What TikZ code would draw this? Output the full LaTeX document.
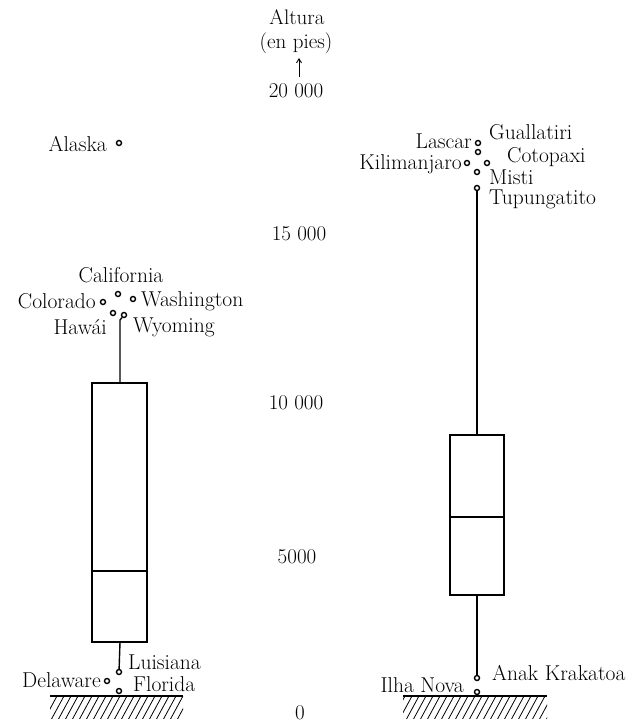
\documentclass[tikz,border=0pt]{standalone}
\usetikzlibrary{arrows.meta}
\begin{document}
\begin{tikzpicture}[x=1pt,y=-1pt,
  lbl/.style={inner sep=0pt, font=\fontsize{21.5}{23}\selectfont},
  axl/.style={inner sep=0pt, font=\fontsize{21}{23}\selectfont},
  pt/.style={circle, draw, line width=1.4pt, inner sep=0pt, minimum size=5pt, fill=white},
  boxline/.style={line width=1.8pt},
  whisk/.style={line width=1.4pt},
  hatchl/.style={line width=0.8pt}]
\useasboundingbox (0,0) rectangle (630,723);

% axis labels
\node[axl] (altura) at (297,17) {Altura};
\node[axl] (enpies) at (296,43) {(en pies)};
\coordinate (arrtop) at (299,58);
\coordinate (arrbot) at (299,77);
\draw[line width=0.9pt,-{Straight Barb[length=4pt,width=5pt]}] (arrbot) -- (arrtop);
\node[axl] (y20) at (296,91) {20\hspace{0.3em}000};
\node[axl] (y15) at (299,234) {15\hspace{0.3em}000};
\node[axl] (y10) at (296,403) {10\hspace{0.3em}000};
\node[axl] (y5) at (297,557) {5000};
\node[axl] (y0) at (300,713) {0};

% ---------------- left box plot (US states)
\draw[boxline] (92,383) rectangle (147,642);
\coordinate (Ltop) at (120,383);
\coordinate (Lbot) at (120,642);
\draw[boxline] (92,571) -- (147,571);
\node[pt] (wyo) at (124,315) {};
\node[pt] (haw) at (113,313) {};
\node[pt] (cal) at (118,294) {};
\node[pt] (col) at (103,302) {};
\node[pt] (was) at (133,299) {};
\node[pt] (ala) at (119,143) {};
\node[pt] (lui) at (119,672) {};
\node[pt] (del) at (107,681) {};
\node[pt] (flo) at (119,691) {};
\draw[whisk] (Ltop) -- (120,320) -- (wyo);
\draw[whisk] (Lbot) -- (lui);

\node[lbl,anchor=east] at (107,144) {Alaska};
\node[lbl] at (121,275) {California};
\node[lbl,anchor=east] at (96,301) {Colorado};
\node[lbl,anchor=west] at (141,301) {Washington};
\node[lbl,anchor=east] at (107,327) {Hawái};
\node[lbl,anchor=west] at (133,327) {Wyoming};
\node[lbl,anchor=west] at (128,662) {Luisiana};
\node[lbl,anchor=east] at (101,680) {Delaware};
\node[lbl,anchor=west] at (133,684) {Florida};

% ground left
\draw[line width=1.2pt] (50,696) -- (183,696);
\begin{scope}
\clip (50,696) rectangle (183,718);
\foreach \x in {30,37,...,200} \draw[hatchl] (\x,720) -- (\x+13,696);
\end{scope}

% ---------------- right box plot (volcanoes)
\draw[boxline] (450,435) rectangle (504,595);
\draw[boxline] (450,517) -- (504,517);
\coordinate (Rtop) at (477,435);
\coordinate (Rbot) at (477,595);
\node[pt] (gua) at (478,143) {};
\node[pt] (las) at (478,152) {};
\node[pt] (kil) at (467,163) {};
\node[pt] (cot) at (487,163) {};
\node[pt] (mis) at (477,172) {};
\node[pt] (tup) at (477,188) {};
\node[pt] (ana) at (477,678) {};
\node[pt] (ilh) at (477,692) {};
\draw[whisk] (Rtop) -- (tup);
\draw[whisk] (Rbot) -- (ana);

\node[lbl,anchor=west] at (489,132) {Guallatiri};
\node[lbl,anchor=east] at (472,141) {Lascar};
\node[lbl,anchor=east] at (462,164) {Kilimanjaro};
\node[lbl,anchor=west] at (507,157) {Cotopaxi};
\node[lbl,anchor=west] at (489,177) {Misti};
\node[lbl,anchor=west] at (489,199) {Tupungatito};
\node[lbl,anchor=east] at (464,685) {Ilha Nova};
\node[lbl,anchor=west] at (492,673) {Anak Krakatoa};

% ground right
\draw[line width=1.2pt] (403,696) -- (547,696);
\begin{scope}
\clip (403,696) rectangle (547,718);
\foreach \x in {385,392,...,560} \draw[hatchl] (\x,720) -- (\x+13,696);
\end{scope}
\end{tikzpicture}
\end{document}
